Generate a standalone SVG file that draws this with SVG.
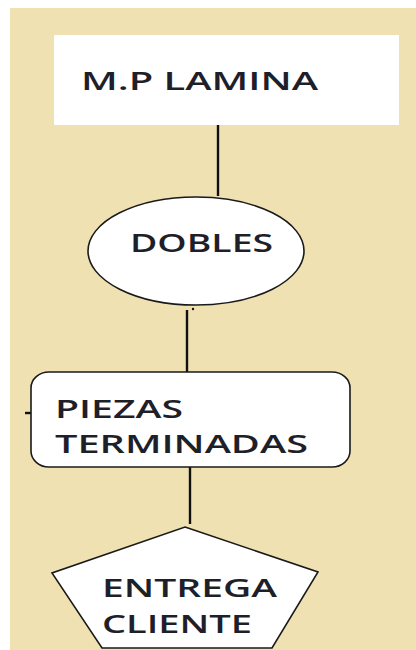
<svg xmlns="http://www.w3.org/2000/svg" width="416" height="650" viewBox="0 0 416 650">
  <style>
    .shape { fill: #ffffff; stroke: #1a1a1a; stroke-width: 1.6; }
    .conn { stroke: #111111; stroke-width: 2.4; fill: none; }
    .lbl { font-family: "Open Sans", "Liberation Sans", sans-serif; font-size: 25px; font-weight: 600; fill: #1f1f2a; }
  </style>
  <rect x="0" y="0" width="416" height="650" fill="#ffffff"/>
  <rect x="10" y="8" width="406" height="642" fill="#EFE1B1"/>
  <g id="connectors">
    <line class="conn" x1="218" y1="125" x2="218" y2="196"/>
    <line class="conn" x1="187" y1="310" x2="187" y2="372"/>
    <line class="conn" x1="190" y1="467" x2="190" y2="524"/>
    <line class="conn" x1="25" y1="413" x2="31" y2="413" stroke-width="1.4"/>
    <circle cx="193" cy="309" r="1.2" fill="#111111"/>
  </g>
  <g id="node-mp-lamina">
    <rect x="54" y="35" width="345" height="90" fill="#ffffff"/>
    <text class="lbl" x="81" y="90" textLength="237" lengthAdjust="spacingAndGlyphs">M.P LAMINA</text>
  </g>
  <g id="node-dobles">
    <ellipse class="shape" cx="196" cy="251" rx="108" ry="54"/>
    <text class="lbl" x="130" y="252" textLength="143" lengthAdjust="spacingAndGlyphs">DOBLES</text>
  </g>
  <g id="node-piezas">
    <rect class="shape" x="31" y="372" width="319" height="95" rx="18" ry="16"/>
    <text class="lbl" x="55" y="418" textLength="128" lengthAdjust="spacingAndGlyphs">PIEZAS</text>
    <text class="lbl" x="55" y="453" textLength="253" lengthAdjust="spacingAndGlyphs">TERMINADAS</text>
  </g>
  <g id="node-entrega">
    <polygon class="shape" points="185,527 318,572 272,648 102,648 52,573"/>
    <text class="lbl" x="102" y="597" textLength="175" lengthAdjust="spacingAndGlyphs">ENTREGA</text>
    <text class="lbl" x="102" y="633" textLength="150" lengthAdjust="spacingAndGlyphs">CLIENTE</text>
  </g>
</svg>
